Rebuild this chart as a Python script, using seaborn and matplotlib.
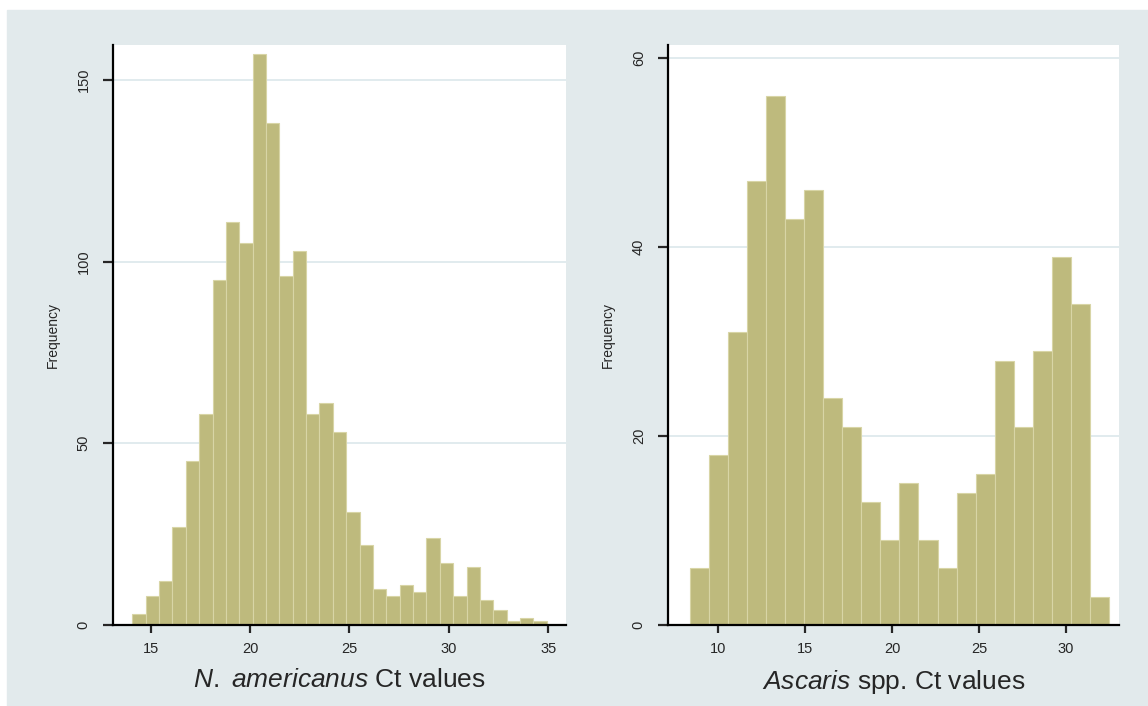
import numpy as np
import pandas as pd
import matplotlib
matplotlib.use("Agg")
import matplotlib.pyplot as plt
from matplotlib.patches import Rectangle
import seaborn as sns

# N. americanus Ct values: bin start, bin width, counts per bin
nam_start = 14.07
nam_width = 0.673
nam_counts = [3, 8, 12, 27, 45, 58, 95, 111, 105, 157, 138, 96, 103, 58, 61, 53,
              31, 22, 10, 8, 11, 9, 24, 17, 8, 16, 7, 4, 1, 2, 1]
nam_xticks = [15, 20, 25, 30, 35]
nam_yticks = [0, 50, 100, 150]

# Ascaris spp. Ct values
asc_start = 8.37
asc_width = 1.0955
asc_counts = [6, 18, 31, 47, 56, 43, 46, 24, 21, 13, 9, 15, 9, 6, 14, 16,
              28, 21, 29, 39, 34, 3]
asc_xticks = [10, 15, 20, 25, 30]
asc_yticks = [0, 20, 40, 60]

BAR = "#BEBA7D"
EDGE = "#D8D5A6"
BG = "#E2EAEC"
GRID = "#DCE7EB"

sns.set_style("white")
plt.rcParams["font.family"] = ["Liberation Sans", "DejaVu Sans"]
plt.rcParams["mathtext.fontset"] = "custom"
plt.rcParams["mathtext.rm"] = "Liberation Sans"
plt.rcParams["mathtext.it"] = "Liberation Sans:italic"

W, H = 1148, 706
fig = plt.figure(figsize=(W / 100, H / 100), dpi=100)
fig.patch.set_facecolor("white")
# Stata-like light bluish background
fig.add_artist(Rectangle((7 / W, 0), 1 - 7 / W, 1 - 10 / H,
                         transform=fig.transFigure, color=BG, zorder=0))


def draw_hist(rect, start, width, counts, xlim, ylim, xticks, yticks, xlabel):
    ax = fig.add_axes(rect)
    n = len(counts)
    centers = start + width * (np.arange(n) + 0.5)
    df = pd.DataFrame({"ct": centers, "n": counts})
    sns.histplot(data=df, x="ct", weights="n", binwidth=width,
                 binrange=(start, start + width * n), ax=ax,
                 color=BAR, edgecolor=EDGE, linewidth=0.8, alpha=1)
    ax.set_facecolor("white")
    ax.set_xlim(*xlim)
    ax.set_ylim(*ylim)
    ax.set_xticks(xticks)
    ax.set_yticks(yticks)
    ax.set_yticklabels([str(t) for t in yticks], rotation=90, va="center")
    ax.set_axisbelow(True)
    ax.yaxis.grid(True, color=GRID, linewidth=1.2)
    ax.xaxis.grid(False)
    for s in ["top", "right"]:
        ax.spines[s].set_visible(False)
    for s in ["left", "bottom"]:
        ax.spines[s].set_color("black")
        ax.spines[s].set_linewidth(1.6)
    ax.tick_params(axis="x", direction="out", length=6, width=1.6,
                   labelsize=10.5, pad=6, bottom=True)
    ax.tick_params(axis="y", direction="out", length=7, width=1.6,
                   labelsize=10.5, pad=9, left=True)
    ax.set_xlabel(xlabel, fontsize=19, labelpad=9)
    ax.set_ylabel("Frequency", fontsize=10, labelpad=12)
    return ax


bottom = (H - 625) / H
height = (625 - 45) / H
draw_hist([113 / W, bottom, (566 - 113) / W, height],
          nam_start, nam_width, nam_counts, (13.1, 35.9), (0, 159.6),
          nam_xticks, nam_yticks, r"$\mathit{N.}$ $\mathit{americanus}$ Ct values")
draw_hist([668 / W, bottom, (1119 - 668) / W, height],
          asc_start, asc_width, asc_counts, (7.11, 33.05), (0, 61.4),
          asc_xticks, asc_yticks, r"$\mathit{Ascaris}$ spp. Ct values")

fig.savefig("out.png", dpi=100)
